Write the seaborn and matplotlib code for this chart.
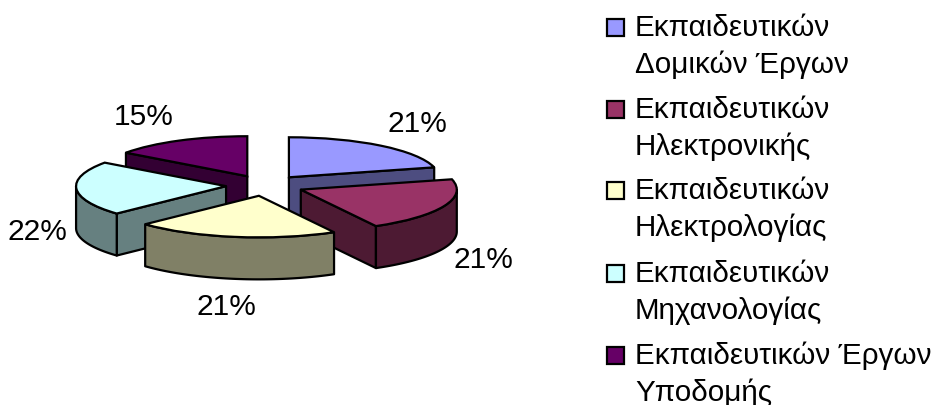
import matplotlib
matplotlib.use("Agg")
import matplotlib.pyplot as plt
import numpy as np
import seaborn as sns

categories = [
    "Εκπαιδευτικών\nΔομικών Έργων",
    "Εκπαιδευτικών\nΗλεκτρονικής",
    "Εκπαιδευτικών\nΗλεκτρολογίας",
    "Εκπαιδευτικών\nΜηχανολογίας",
    "Εκπαιδευτικών Έργων\nΥποδομής",
]
values = [21, 21, 21, 22, 15]
hex_colors = ["#9999FF", "#993366", "#FFFFCC", "#CCFFFF", "#660066"]

sns.set_theme(style="white")
plt.rcParams["font.family"] = ["Liberation Sans", "DejaVu Sans"]
colors = sns.color_palette(hex_colors)

W, H = 934, 405
cx, cy = 265, 185.5   # pie centre in pixels
rx, ry = 150, 40      # pixels per pie unit, this gives the tilt
explode = 0.26
depth = 42 / ry
lw = 1.6
# front slices look a bit bigger in the original (perspective)
radii = [1.0, 1.04, 1.04, 1.0, 1.0]

fig = plt.figure(figsize=(W / 100, H / 100), dpi=100)
ax = fig.add_axes([0, 0, 1, 1])

wedges, _ = ax.pie(values, colors=colors, explode=[explode] * len(values),
                   startangle=90, counterclock=False, radius=1,
                   wedgeprops={"edgecolor": "black", "linewidth": lw})
ax.set_aspect("auto")
ax.set_xlim(-cx / rx, (W - cx) / rx)
ax.set_ylim((cy - H) / ry, cy / ry)

# angles clockwise from 12 o'clock
edges = np.radians(np.concatenate([[0], np.cumsum(values)]) * 3.6)
draw_order = [4, 0, 3, 1, 2]


def side(ax, xs, ys, color, z):
    xs = np.concatenate([xs, xs[::-1]])
    ys = np.concatenate([ys, ys[::-1] - depth])
    ax.fill(xs, ys, facecolor=color, edgecolor="black", linewidth=lw,
            joinstyle="round", zorder=z)


for z, i in enumerate(draw_order):
    t0, t1 = edges[i], edges[i + 1]
    mid = (t0 + t1) / 2
    ox, oy = explode * np.sin(mid), explode * np.cos(mid)
    r = radii[i]
    dark = tuple(c * 0.5 for c in colors[i])
    base = z * 10 + 1

    # cut faces turned to the viewer
    for t, visible in ((t0, np.sin(t0) < -1e-6), (t1, np.sin(t1) > 1e-6)):
        if visible:
            side(ax, np.array([ox, ox + r * np.sin(t)]),
                 np.array([oy, oy + r * np.cos(t)]), dark, base)

    # outer rim, only the front half shows
    a, b = max(t0, np.pi / 2), min(t1, 3 * np.pi / 2)
    if a < b:
        arc = np.linspace(a, b, 60)
        side(ax, ox + r * np.sin(arc), oy + r * np.cos(arc), dark, base + 1)

    wedges[i].set_radius(r)
    wedges[i].set_zorder(base + 2)

# labels and legend in pixel coordinates
over = fig.add_axes([0, 0, 1, 1], facecolor="none")
over.set_xlim(0, W)
over.set_ylim(H, 0)
over.axis("off")

label_pos = [(417, 124), (483, 260), (226, 307), (37, 232), (144, 117)]
for v, (x, y) in zip(values, label_pos):
    over.text(x, y, f"{v}%", fontsize=21.5, color="black",
              ha="center", va="center")

legend_y = [10, 92, 173, 256, 338]
for y0, name, c in zip(legend_y, categories, colors):
    over.add_patch(plt.Rectangle((606.5, y0 + 9), 17, 17, facecolor=c,
                                 edgecolor="black", linewidth=lw))
    for k, line in enumerate(name.split("\n")):
        over.text(635, y0 + 18 + k * 36.5, line, fontsize=21.3, color="black",
                  ha="left", va="center")

fig.savefig("out.png", dpi=100)
